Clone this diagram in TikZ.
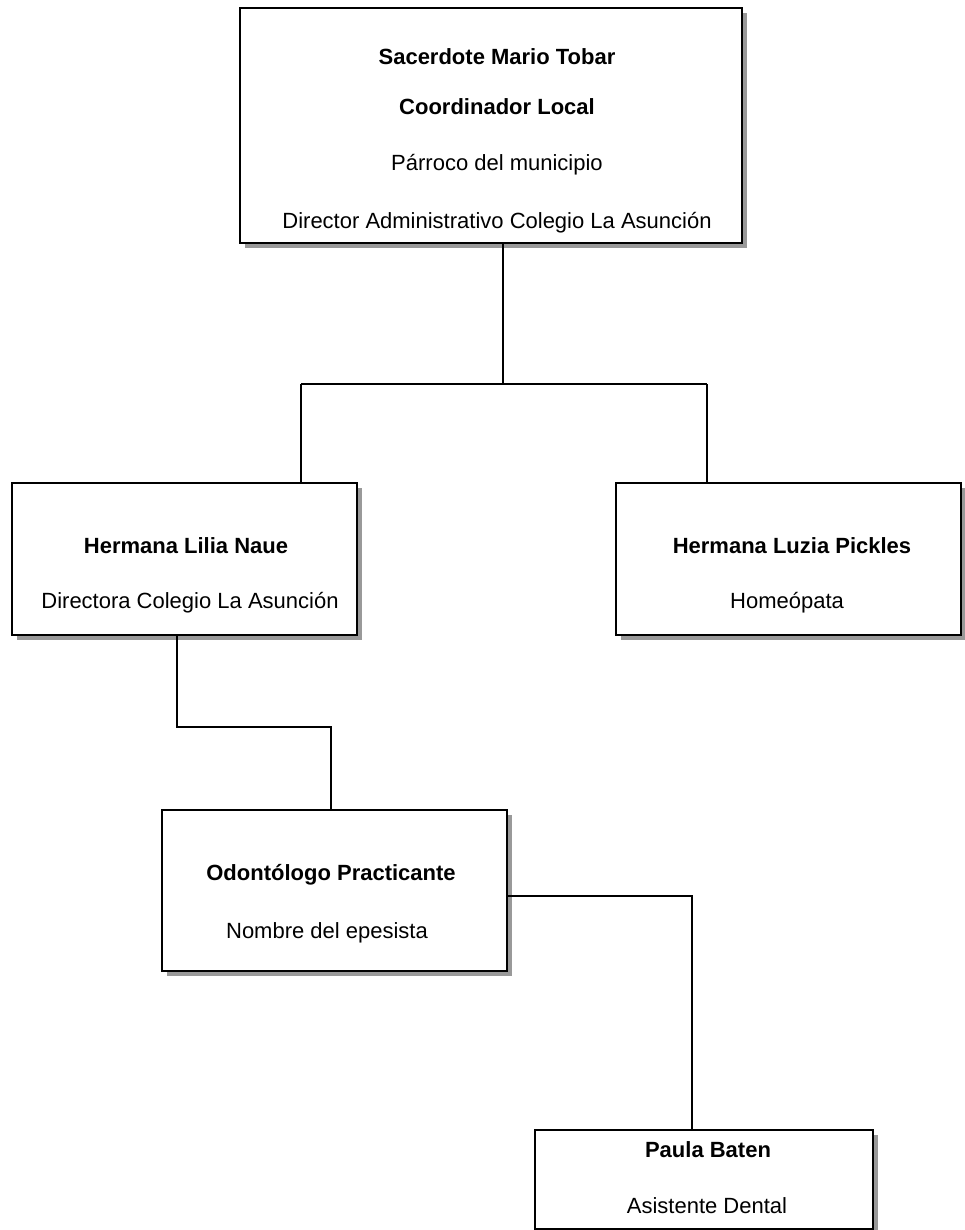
\documentclass[tikz,border=0pt]{standalone}
\usepackage{fontspec}
\setmainfont{Liberation Sans}
\usetikzlibrary{shadows}
\tikzset{
  orgbox/.style={draw=black, line width=1.4pt, fill=white, inner sep=0pt, outer sep=0pt,
    drop shadow={shadow xshift=5pt, shadow yshift=-5pt, fill=black!40, opacity=1}},
  txt/.style={anchor=base, inner sep=0pt, font=\fontsize{22}{26}\selectfont},
  btxt/.style={txt, font=\fontsize{22}{26}\selectfont\bfseries},
  conn/.style={draw=black, line width=1.2pt}
}
\begin{document}
\begin{tikzpicture}[x=1pt,y=-1pt]
\useasboundingbox (0,0) rectangle (965,1230);
% boxes
\node[orgbox, minimum width=502pt, minimum height=235pt] (top) at (491,125.5) {};
\node[orgbox, minimum width=345pt, minimum height=152pt] (lbox) at (184.5,559) {};
\node[orgbox, minimum width=345pt, minimum height=152pt] (rbox) at (788.5,559) {};
\node[orgbox, minimum width=345pt, minimum height=161pt] (odo) at (334.5,890.5) {};
\node[orgbox, minimum width=338pt, minimum height=99pt] (paula) at (704,1179.5) {};
% texts
\node[btxt] (t1) at (497,65) {Sacerdote Mario Tobar};
\node[btxt] (t2) at (497,115) {Coordinador Local};
\node[txt] (t3) at (497,171) {Párroco del municipio};
\node[txt] (t4) at (497,229) {Director Administrativo Colegio La Asunción};
\node[btxt] (l1) at (186,553) {Hermana Lilia Naue};
\node[txt] (l2) at (190,608) {Directora Colegio La Asunción};
\node[btxt] (r1) at (792,553) {Hermana Luzia Pickles};
\node[txt] (r2) at (787,608) {Homeópata};
\node[btxt] (o1) at (331,880) {Odontólogo Practicante};
\node[txt] (o2) at (327,938) {Nombre del epesista};
\node[btxt] (p1) at (708,1157) {Paula Baten};
\node[txt] (p2) at (707,1213) {Asistente Dental};
% connector bends
\coordinate (hT) at (503,384);
\coordinate (hL) at (301,384);
\coordinate (hR) at (707,384);
\coordinate (a1) at (177,727);
\coordinate (a2) at (331,727);
\coordinate (b1) at (692,896);
% connectors
\draw[conn] (top.south -| hT) -- (hT);
\draw[conn] (hL) -- (hR);
\draw[conn] (hL) -- (hL |- lbox.north);
\draw[conn] (hR) -- (hR |- rbox.north);
\draw[conn] (a1 |- lbox.south) -- (a1) -- (a2) -- (a2 |- odo.north);
\draw[conn] (odo.east |- b1) -- (b1) -- (b1 |- paula.north);
\end{tikzpicture}
\end{document}
